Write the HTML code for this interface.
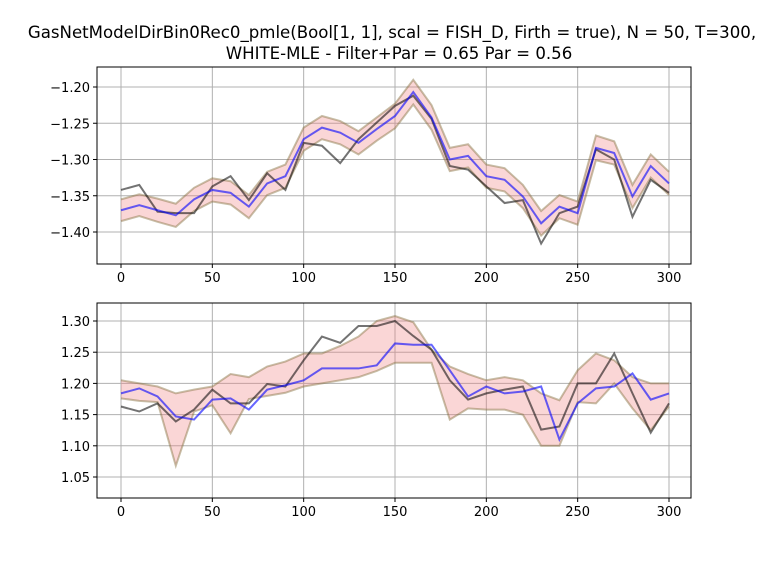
<!DOCTYPE html>
<html><head><meta charset="utf-8">
<style>
body{margin:0;background:#fff;}
svg{display:block;font-family:"DejaVu Sans","Liberation Sans",sans-serif;}
</style></head>
<body>
<svg id="chart" width="769" height="561" viewBox="0 0 769 561">
<rect width="769" height="561" fill="#fff"/>
<text x="392" y="38" font-size="16.6" text-anchor="middle">GasNetModelDirBin0Rec0_pmle(Bool[1, 1], scal = FISH_D, Firth = true), N = 50, T=300,</text>
<text x="399" y="59" font-size="16.6" text-anchor="middle">WHITE-MLE - Filter+Par = 0.65 Par = 0.56</text>
<g id="top"></g>
<g id="bot"></g>
</svg>
<script>
const times = [0,10,20,30,40,50,60,70,80,90,100,110,120,130,140,150,160,170,180,190,200,210,220,230,240,250,260,270,280,290,300];
const xTicks = [0,50,100,150,200,250,300];
const topYTicks = [-1.40,-1.35,-1.30,-1.25,-1.20];
const botYTicks = [1.05,1.10,1.15,1.20,1.25,1.30];
const topFilter = [-1.370,-1.363,-1.370,-1.377,-1.355,-1.342,-1.346,-1.365,-1.333,-1.323,-1.272,-1.256,-1.263,-1.277,-1.258,-1.240,-1.207,-1.242,-1.300,-1.295,-1.323,-1.328,-1.351,-1.388,-1.365,-1.374,-1.284,-1.291,-1.351,-1.309,-1.333];
const topTrue = [-1.342,-1.335,-1.372,-1.374,-1.374,-1.337,-1.323,-1.356,-1.319,-1.342,-1.277,-1.281,-1.305,-1.272,-1.249,-1.226,-1.212,-1.244,-1.309,-1.314,-1.337,-1.360,-1.356,-1.416,-1.374,-1.365,-1.286,-1.300,-1.379,-1.328,-1.346];
const topHalfWidth = [0.015,0.015,0.016,0.016,0.016,0.016,0.016,0.016,0.016,0.016,0.016,0.016,0.016,0.016,0.016,0.017,0.017,0.017,0.016,0.016,0.016,0.016,0.016,0.017,0.016,0.016,0.017,0.016,0.016,0.016,0.016];
const botFilter = [1.184,1.192,1.179,1.147,1.142,1.174,1.176,1.158,1.190,1.197,1.205,1.224,1.224,1.224,1.229,1.264,1.262,1.262,1.221,1.179,1.195,1.184,1.187,1.195,1.110,1.168,1.192,1.195,1.216,1.174,1.184];
const botTrue = [1.163,1.155,1.168,1.139,1.158,1.190,1.168,1.168,1.199,1.195,1.237,1.275,1.265,1.292,1.292,1.300,1.276,1.254,1.205,1.174,1.184,1.190,1.195,1.126,1.131,1.200,1.200,1.248,1.184,1.121,1.168];
const botLower = [1.176,1.172,1.170,1.068,1.155,1.165,1.120,1.175,1.180,1.185,1.195,1.200,1.205,1.210,1.220,1.233,1.233,1.233,1.142,1.160,1.158,1.158,1.150,1.100,1.100,1.170,1.168,1.200,1.160,1.125,1.163];
const botUpper = [1.205,1.200,1.195,1.184,1.190,1.195,1.215,1.210,1.227,1.235,1.248,1.248,1.260,1.275,1.300,1.308,1.298,1.254,1.227,1.215,1.205,1.210,1.205,1.184,1.173,1.221,1.248,1.237,1.210,1.200,1.200];

const NS="http://www.w3.org/2000/svg";
function mk(tag,attrs,parent){const e=document.createElementNS(NS,tag);for(const k in attrs)e.setAttribute(k,attrs[k]);parent.appendChild(e);return e;}
const xs = t => 121 + (t-0)*(548/300);

function panel(g, box, yScale, yTicks, yFmt, lower, upper, filt, truth){
  const [x0,y0,x1,y1]=box;
  mk('rect',{x:x0,y:y0,width:x1-x0,height:y1-y0,fill:'#fff'},g);
  xTicks.forEach(t=>{
    const gl=mk('line',{x1:xs(t),x2:xs(t),y1:y0,y2:y1,stroke:'#b0b0b0','stroke-width':1},g);
    
    
    mk('line',{x1:xs(t),x2:xs(t),y1:y1,y2:y1+4,stroke:'#000'},g);
    const tx=mk('text',{x:xs(t),y:y1+18,'font-size':13,'text-anchor':'middle'},g);
    tx.textContent=t;
    
    
  });
  yTicks.forEach(v=>{
    const y=yScale(v);
    const gl=mk('line',{x1:x0,x2:x1,y1:y,y2:y,stroke:'#b0b0b0','stroke-width':1},g);
    
    
    mk('line',{x1:x0-4,x2:x0,y1:y,y2:y,stroke:'#000'},g);
    const tx=mk('text',{x:x0-7,y:y+5,'font-size':13,'text-anchor':'end'},g);
    tx.textContent=yFmt(v);
    
    
  });
  const up=times.map((t,i)=>xs(t)+','+yScale(upper[i]));
  const lo=times.map((t,i)=>xs(t)+','+yScale(lower[i])).reverse();
  const band=mk('polygon',{points:up.concat(lo).join(' '),fill:'rgba(240,128,128,0.32)',stroke:'none'},g);
  
  
  const ub=mk('polyline',{points:up.join(' '),fill:'none',stroke:'rgba(130,110,60,0.45)','stroke-width':2},g);
  
  
  const lb=mk('polyline',{points:lo.join(' '),fill:'none',stroke:'rgba(130,110,60,0.45)','stroke-width':2},g);
  
  
  const tl=mk('polyline',{points:times.map((t,i)=>xs(t)+','+yScale(truth[i])).join(' '),fill:'none',stroke:'rgba(0,0,0,0.55)','stroke-width':2},g);
  
  
  const fl=mk('polyline',{points:times.map((t,i)=>xs(t)+','+yScale(filt[i])).join(' '),fill:'none',stroke:'rgba(0,0,255,0.6)','stroke-width':2},g);
  
  
  const fr=mk('rect',{x:x0,y:y0,width:x1-x0,height:y1-y0,fill:'none',stroke:'#000','stroke-width':1},g);
  
  
}
const topY = v => 87 + (-1.20 - v)*(145/0.20);
const botY = v => 321 + (1.30 - v)*(156/0.25);
panel(document.getElementById('top'),[97,67,691,264],topY,topYTicks,v=>'\u2212'+Math.abs(v).toFixed(2),
  topFilter.map((v,i)=>v-topHalfWidth[i]),topFilter.map((v,i)=>v+topHalfWidth[i]),topFilter,topTrue);
panel(document.getElementById('bot'),[97,303,691,498],botY,botYTicks,v=>v.toFixed(2),
  botLower,botUpper,botFilter,botTrue);
</script>
</body></html>
